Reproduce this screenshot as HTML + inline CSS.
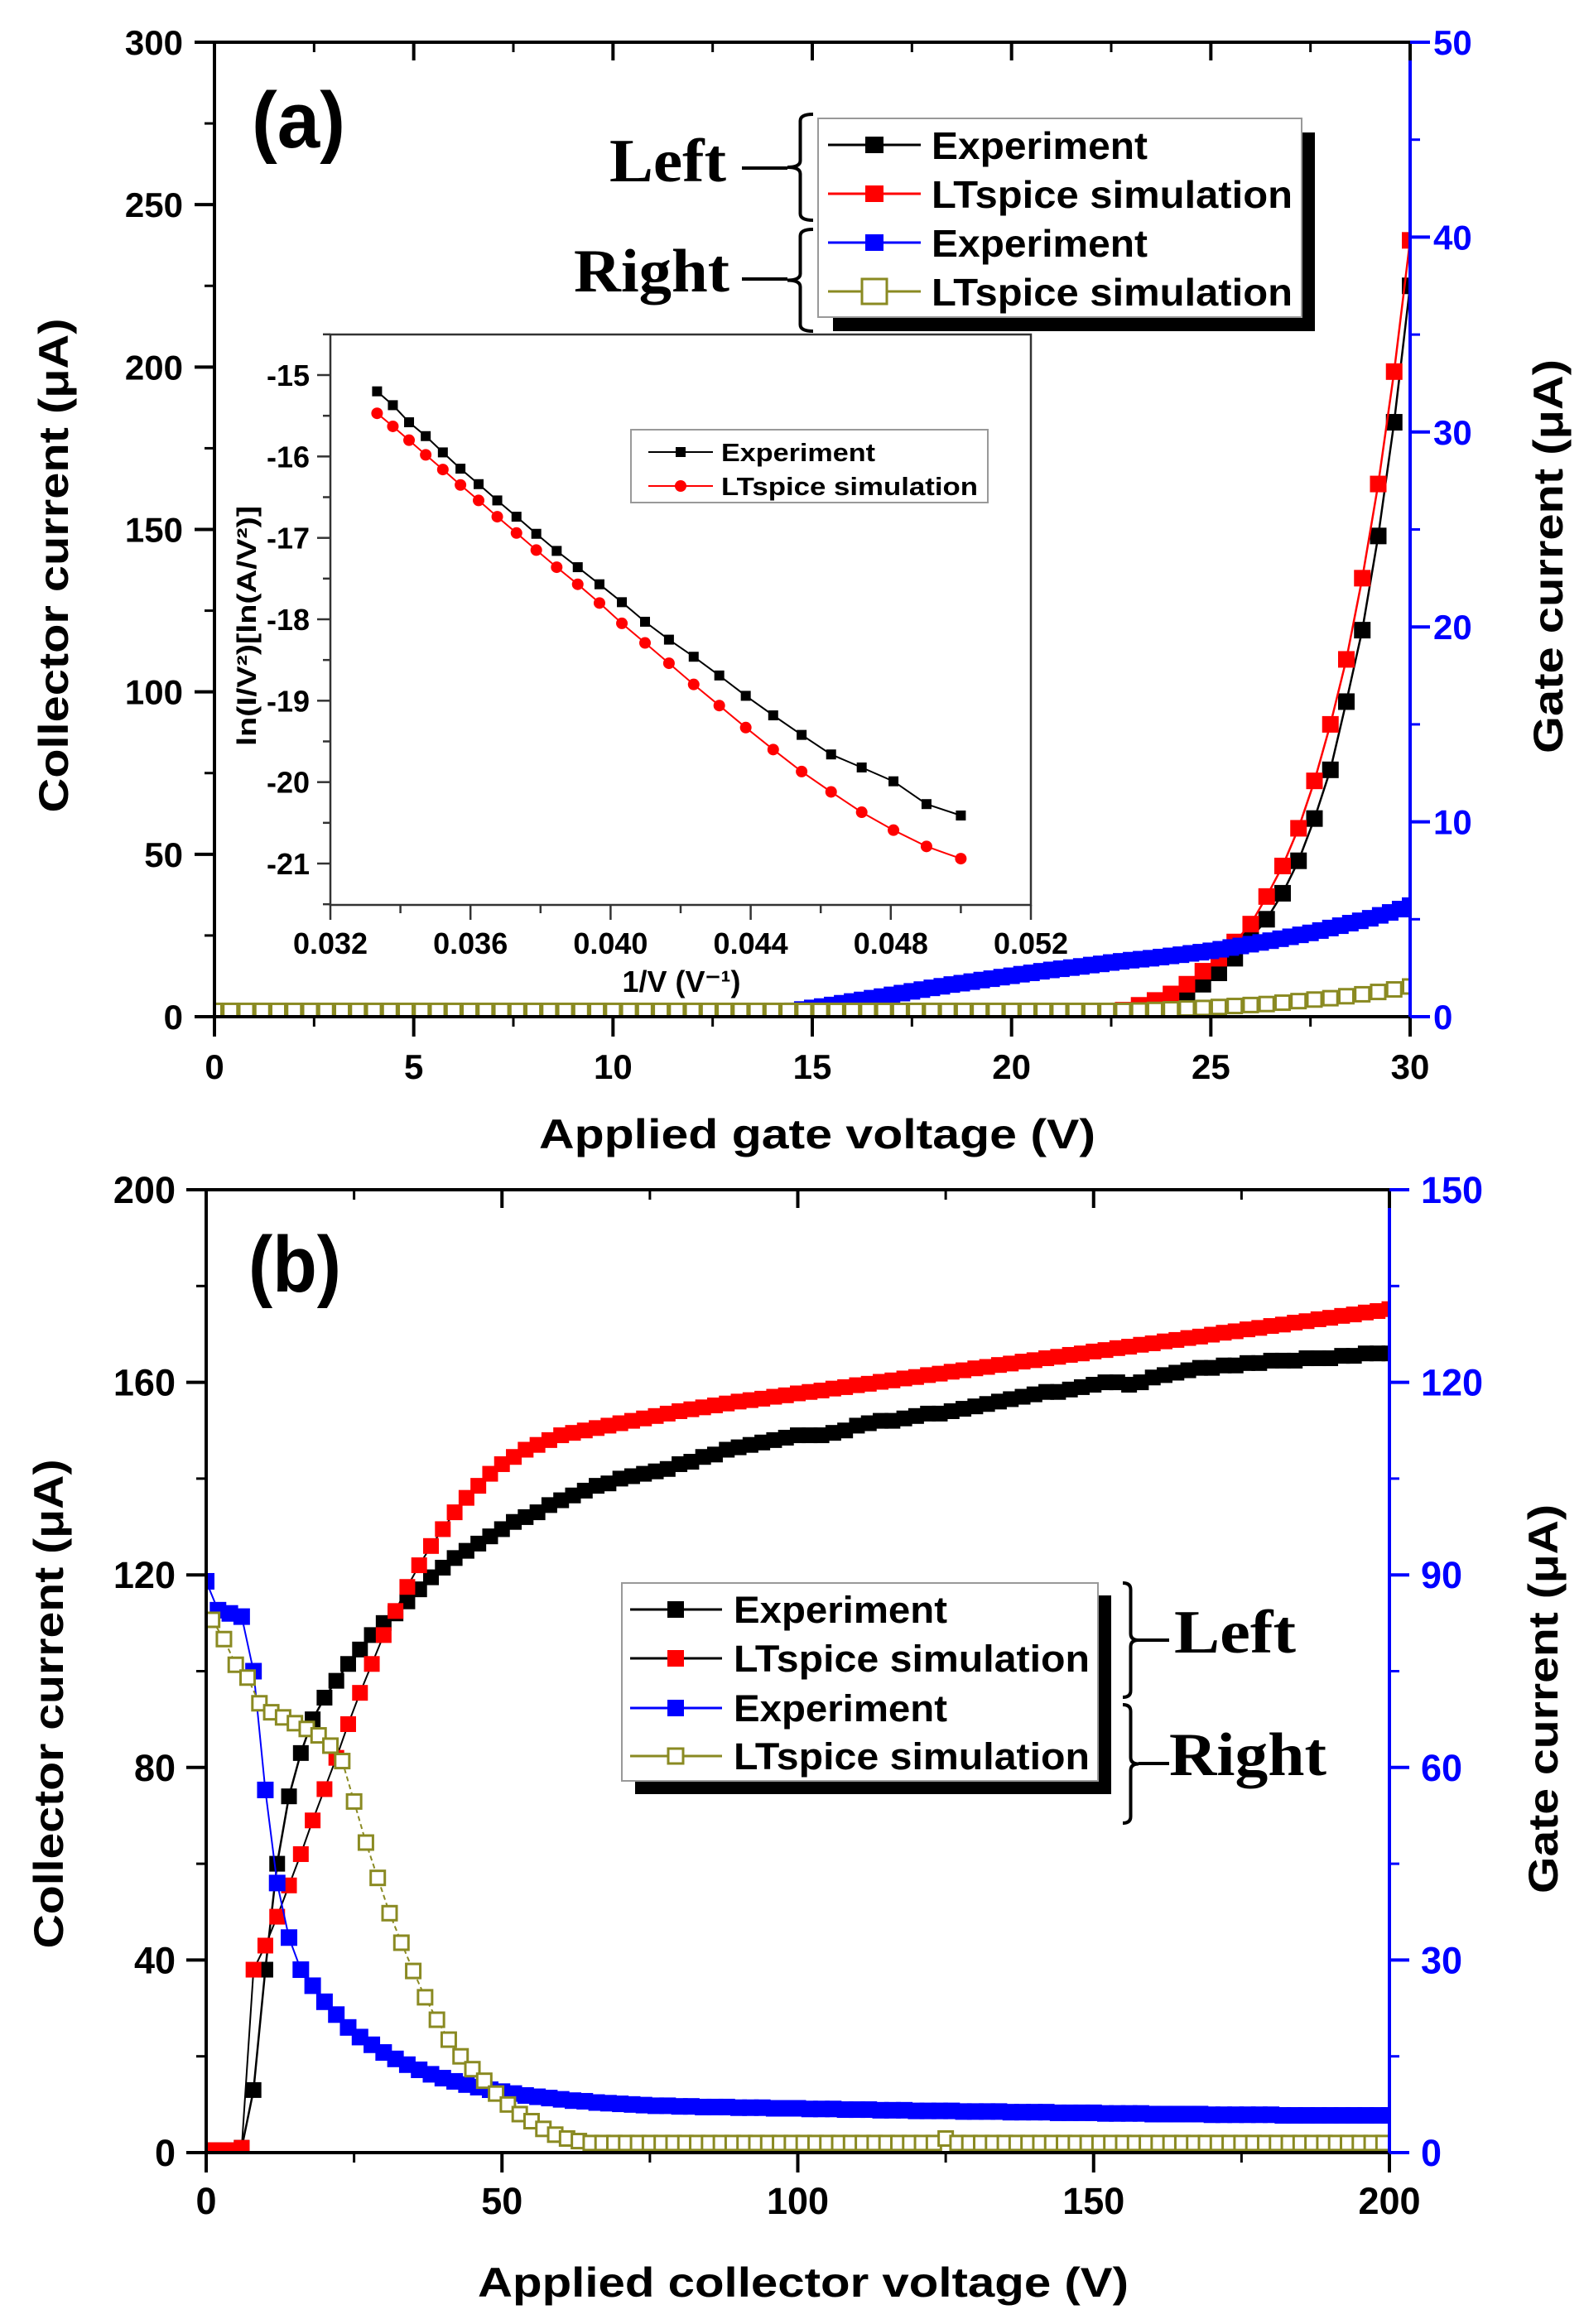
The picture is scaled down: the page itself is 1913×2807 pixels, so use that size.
<!DOCTYPE html>
<html><head><meta charset="utf-8"><title>Collector and gate current vs applied gate and collector voltage</title>
<style>
html,body{margin:0;padding:0;background:#fff;}
svg{display:block;font-family:"Liberation Sans",Arial,sans-serif;}
text{font-weight:bold;}
</style></head>
<body>
<svg id="fig" xmlns="http://www.w3.org/2000/svg" width="1913" height="2807" viewBox="0 0 1913 2807">
<defs>
<clipPath id="clipA"><rect x="259" y="40" width="1444" height="1188"/></clipPath>
<clipPath id="clipB"><rect x="249" y="1430" width="1429" height="1170"/></clipPath>
</defs>
</svg>
<script>
// ---------- Panel (a) data ----------
const aStep = 0.4;
const aExpCollector = [
0,0,0,0,0,0,0,0,0,0,
0,0,0,0,0,0,0,0,0,0,
0,0,0,0,0,0,0,0,0,0,
0,0,0,0,0,0,0,0,0,0,
0,0,0,0,0,0,0,0,0,0,
0,0,0,0,0,0,0,
0.5,1,2,4,6.5,10,13.5,18,24,30,38,48,61,76,97,119,148,183,225];
const aSimCollector = [
0,0,0,0,0,0,0,0,0,0,
0,0,0,0,0,0,0,0,0,0,
0,0,0,0,0,0,0,0,0,0,
0,0,0,0,0,0,0,0,0,0,
0,0,0,0,0,0,0,0,0,0,
0,0,0,0,0,
0.5,1,2,3.5,5,7,10,14,18,23,28.5,37,46.4,58,72.6,90,110,135,164,198.6,239];
const aSimGate = [
0.3,0.3,0.3,0.3,0.3,0.3,0.3,0.3,0.3,0.3,
0.3,0.3,0.3,0.3,0.3,0.3,0.3,0.3,0.3,0.3,
0.3,0.3,0.3,0.3,0.3,0.3,0.3,0.3,0.3,0.3,
0.3,0.3,0.3,0.3,0.3,0.3,0.3,0.3,0.3,0.3,
0.3,0.3,0.3,0.3,0.3,0.3,0.3,0.3,0.3,0.3,
0.3,0.3,0.3,0.3,0.3,0.3,0.3,0.3,
0.32,0.35,0.38,0.42,0.45,0.5,0.55,0.6,0.65,0.72,0.8,0.88,0.95,1.05,1.15,1.27,1.4,1.55];
const aExpGateStart = 13, aExpGateStep = 0.25;
const aExpGate = [0,0.02,0.05,0.1,0.15,0.22,0.3,0.37,0.45,0.52,0.6,0.69,0.78,0.86,0.95,1.03,1.12,1.21,1.3,1.39,
1.48,1.56,1.65,1.72,1.8,1.88,1.95,2.03,2.1,2.18,2.25,2.33,2.4,2.46,2.52,2.58,2.65,2.71,2.78,2.84,
2.9,2.95,3.0,3.06,3.12,3.18,3.25,3.31,3.38,3.46,3.55,3.63,3.72,3.81,3.9,4.0,4.1,4.2,4.3,4.42,
4.55,4.67,4.8,4.92,5.05,5.2,5.35,5.52,5.7];
const aXTicks = [0,5,10,15,20,25,30];
const aYLTicks = [0,50,100,150,200,250,300];
const aYRTicks = [0,10,20,30,40,50];

// ---------- Inset data ----------
const insetV = [30,29.6,29.2,28.8,28.4,28,27.6,27.2,26.8,26.4,26,25.6,25.2,24.8,24.4,24,23.6,23.2,22.8,22.4,22,21.6,21.2,20.8,20.4,20];
const insetExp = [-15.20,-15.37,-15.58,-15.75,-15.95,-16.15,-16.34,-16.54,-16.74,-16.95,-17.16,-17.36,-17.57,-17.79,-18.03,-18.25,-18.46,-18.69,-18.94,-19.18,-19.42,-19.66,-19.82,-19.99,-20.27,-20.41];
const insetSim = [-15.47,-15.63,-15.80,-15.98,-16.16,-16.35,-16.54,-16.74,-16.94,-17.15,-17.36,-17.57,-17.80,-18.05,-18.29,-18.54,-18.80,-19.06,-19.33,-19.60,-19.87,-20.12,-20.37,-20.59,-20.79,-20.94];
const insetXTicks = ["0.032","0.036","0.040","0.044","0.048","0.052"];
const insetYTicks = [-15,-16,-17,-18,-19,-20,-21];

// ---------- Panel (b) data ----------
const bStep = 2;
const bExpCollector = [0.5,0.5,0.5,1,13,38,60,74,83,90,
94.5,98,101.5,104.5,107.5,110,112,114.5,117,119.5,
121.5,123.5,125,126.5,128,129.5,131,132,133,134.5,
135.5,136.5,137.5,138.5,139,140,140.5,141,141.5,142,
143,143.5,144.5,145,146,146.5,147,147.5,148,148.5,
149,149,149,149.5,150,151,151.5,152,152,152.5,
153,153.5,153.5,154,154.5,155,155.5,156,156.5,157,
157.5,158,158,158.5,159,159.5,160,160,159.5,160,
161,161.5,162,162.5,163,163,163.5,163.5,164,164,
164.5,164.5,164.5,165,165,165,165.5,165.5,166,166,166];
const bSimCollector = [0.5,0.5,0.5,1,38,43,49,55.5,62,69,
75.5,82,89,95.5,101.5,107.5,112.5,117.5,122,126,
129.5,133,136,138.5,141,143,144.5,146,147,148,
149,149.5,150,150.5,151,151.5,152,152.5,153,153.5,
154,154.4,154.8,155.2,155.6,156,156.3,156.6,157,157.3,
157.7,158,158.3,158.7,159,159.4,159.7,160.1,160.4,160.8,
161.1,161.5,161.8,162.2,162.5,162.9,163.2,163.6,163.9,164.3,
164.6,165,165.3,165.7,166,166.4,166.7,167.1,167.4,167.8,
168.1,168.5,168.8,169.2,169.5,169.9,170.3,170.6,171,171.3,
171.7,172,172.4,172.7,173.1,173.4,173.8,174.1,174.5,174.8,175.2];
const bExpGate = [89,84.5,84,83.5,75,56.5,42,33.5,28.5,26,
23.5,21.5,19.5,18,16.8,15.6,14.6,13.7,12.9,12.2,
11.6,11.1,10.6,10.2,9.8,9.5,9.2,8.9,8.7,8.5,
8.3,8.1,8,7.8,7.7,7.6,7.5,7.4,7.3,7.3,
7.2,7.2,7.1,7.1,7.1,7,7,7,6.9,6.9,
6.9,6.8,6.8,6.8,6.7,6.7,6.7,6.6,6.6,6.6,
6.5,6.5,6.5,6.5,6.4,6.4,6.4,6.4,6.3,6.3,
6.3,6.3,6.2,6.2,6.2,6.2,6.1,6.1,6.1,6.1,
6.0,6.0,6.0,6.0,6.0,5.9,5.9,5.9,5.9,5.9,
5.9,5.8,5.8,5.8,5.8,5.8,5.8,5.8,5.8,5.8,5.8];
const bSimGateStart = 1;
const bSimGate = [83,80,76,74,70,68.6,67.8,66.9,66,65,
63.4,61,54.7,48.3,42.8,37.3,32.7,28.3,24.2,20.7,
17.6,15,13,11.2,9.2,7.5,6,4.9,3.7,2.8,
2.2,1.8,1.5,1.5,1.5,1.5,1.5,1.5,1.5,1.5,
1.5,1.5,1.5,1.5,1.5,1.5,1.5,1.5,1.5,1.5,
1.5,1.5,1.5,1.5,1.5,1.5,1.5,1.5,1.5,1.5,
1.5,1.5,2.2,1.5,1.5,1.5,1.5,1.5,1.5,1.5,
1.5,1.5,1.5,1.5,1.5,1.5,1.5,1.5,1.5,1.5,
1.5,1.5,1.5,1.5,1.5,1.5,1.5,1.5,1.5,1.5,
1.5,1.5,1.5,1.5,1.5,1.5,1.5,1.5,1.5,1.5];
const bXTicks = [0,50,100,150,200];
const bYLTicks = [0,40,80,120,160,200];
const bYRTicks = [0,30,60,90,120,150];

// ---------- helpers ----------
const NS = "http://www.w3.org/2000/svg";
const svg = document.getElementById('fig');
const BLUE = "#0000ff", RED = "#ff0000", OLIVE = "#8a8a22";
function mk(tag, attrs, parent) {
  const e = document.createElementNS(NS, tag);
  for (const k in attrs) e.setAttribute(k, attrs[k]);
  (parent || svg).appendChild(e);
  return e;
}
function scale(d0, d1, p0, p1) { return v => p0 + (v - d0) * (p1 - p0) / (d1 - d0); }
function txt(s, x, y, size, anchor, fill, parent, extra) {
  const t = mk('text', Object.assign({x: x, y: y, 'font-size': size, 'text-anchor': anchor || 'start', fill: fill || '#000'}, extra || {}), parent);
  t.textContent = s;
  return t;
}
function seq(start, step, n) { const r = []; for (let i = 0; i < n; i++) r.push(+(start + i * step).toFixed(4)); return r; }

function drawSeries(g, xs, ys, sx, sy, o) {
  if (o.line) {
    const pts = xs.map((x, i) => sx(x).toFixed(1) + ',' + sy(ys[i]).toFixed(1)).join(' ');
    const pl = mk('polyline', {points: pts, fill: 'none', stroke: o.line, 'stroke-width': o.lw || 2.5, 'stroke-dasharray': o.dash || 'none'}, g);
    
    
  }
  xs.forEach((x, i) => {
    const cx = sx(x), cy = sy(ys[i]);
    let m;
    if (o.shape === 'circle') {
      m = mk('circle', {cx: cx, cy: cy, r: o.size / 2, fill: o.fill}, g);
    } else if (o.shape === 'open') {
      m = mk('rect', {x: cx - o.size / 2, y: cy - o.size / 2, width: o.size, height: o.size, fill: '#fff', stroke: o.stroke, 'stroke-width': 3}, g);
    } else {
      m = mk('rect', {x: cx - o.size / 2, y: cy - o.size / 2, width: o.size, height: o.size, fill: o.fill}, g);
    }
    
    
  });
}

function ticksV(g, x, vals, s, dir, len, color, w) {
  vals.forEach(v => { mk('line', {x1: x, x2: x + dir * len, y1: s(v), y2: s(v), stroke: color, 'stroke-width': w}, g); });
}
function ticksH(g, y, vals, s, dir, len, color, w) {
  vals.forEach(v => { mk('line', {y1: y, y2: y + dir * len, x1: s(v), x2: s(v), stroke: color, 'stroke-width': w}, g); });
}
function mids(arr) { const r = []; for (let i = 0; i < arr.length - 1; i++) r.push((arr[i] + arr[i + 1]) / 2); return r; }

function brace(g, xTip, xEnd, yTop, yBot, w) {
  const xm = (xTip + xEnd) / 2, m = (yTop + yBot) / 2, r = 8;
  const d = `M${xEnd},${yTop} Q${xm},${yTop} ${xm},${yTop + r} L${xm},${m - r} Q${xm},${m} ${xTip},${m} Q${xm},${m} ${xm},${m + r} L${xm},${yBot - r} Q${xm},${yBot} ${xEnd},${yBot}`;
  return mk('path', {d: d, fill: 'none', stroke: '#000', 'stroke-width': w || 4}, g);
}

// ================= PANEL A =================
const A = {L: 259, R: 1703, T: 51, B: 1228};
const xa = scale(0, 30, A.L, A.R), yaL = scale(0, 300, A.B, A.T), yaR = scale(0, 50, A.B, A.T);
const gA = mk('g', {});



const aX = seq(0, aStep, aExpCollector.length);
const aXG = seq(aExpGateStart, aExpGateStep, aExpGate.length);
const gAd = mk('g', {'clip-path': 'url(#clipA)'}, gA);


drawSeries(gAd, aX, aExpCollector, xa, yaL, {name: 'a-experiment-collector', line: '#000', lw: 2.5, shape: 'square', size: 20, fill: '#000'});
drawSeries(gAd, aX, aSimCollector, xa, yaL, {name: 'a-ltspice-collector', line: RED, lw: 2.5, shape: 'square', size: 20, fill: RED});
drawSeries(gAd, aXG, aExpGate, xa, yaR, {name: 'a-experiment-gate', line: BLUE, lw: 2.5, shape: 'square', size: 20, fill: BLUE});
drawSeries(gAd, aX, aSimGate, xa, yaR, {name: 'a-ltspice-gate', line: OLIVE, lw: 2, shape: 'open', size: 17, stroke: OLIVE});

const gAax = mk('g', {}, gA);


mk('line', {x1: A.L, x2: A.R, y1: A.B, y2: A.B, stroke: '#000', 'stroke-width': 4}, gAax);
mk('line', {x1: A.L, x2: A.R, y1: A.T, y2: A.T, stroke: '#000', 'stroke-width': 4}, gAax);
mk('line', {x1: A.L, x2: A.L, y1: A.T, y2: A.B + 2, stroke: '#000', 'stroke-width': 4}, gAax);
mk('line', {x1: A.R, x2: A.R, y1: A.T, y2: A.B, stroke: BLUE, 'stroke-width': 4}, gAax);
ticksH(gAax, A.B, aXTicks, xa, 1, 24, '#000', 4);
ticksH(gAax, A.B, mids(aXTicks), xa, 1, 12, '#000', 3);
ticksH(gAax, A.T, aXTicks, xa, 1, 22, '#000', 4);
ticksH(gAax, A.T, mids(aXTicks), xa, 1, 12, '#000', 3);
ticksV(gAax, A.L, aYLTicks, yaL, -1, 24, '#000', 4);
ticksV(gAax, A.L, mids(aYLTicks), yaL, -1, 12, '#000', 3);
ticksV(gAax, A.R, aYRTicks, yaR, 1, 24, BLUE, 4);
ticksV(gAax, A.R, mids(aYRTicks), yaR, 1, 12, BLUE, 3);
aXTicks.forEach(v => { const t = txt(String(v), xa(v), 1303, 42, 'middle', '#000', gAax);   });
aYLTicks.forEach(v => { const t = txt(String(v), 221, yaL(v) + 15, 42, 'end', '#000', gAax);   });
aYRTicks.forEach(v => { const t = txt(String(v), 1731, yaR(v) + 15, 42, 'start', BLUE, gAax);   });

const aXT = txt('Applied gate voltage (V)', 987, 1387, 50, 'middle', '#000', gA, {textLength: 672, lengthAdjust: 'spacingAndGlyphs'});


const aYLT = txt('Collector current (μA)', 0, 0, 50, 'middle', '#000', gA, {textLength: 597, lengthAdjust: 'spacingAndGlyphs', transform: 'translate(82,683) rotate(-90)'});


const aYRT = txt('Gate current (μA)', 0, 0, 50, 'middle', '#000', gA, {textLength: 476, lengthAdjust: 'spacingAndGlyphs', transform: 'translate(1887,672) rotate(-90)'});


const aLab = txt('(a)', 304, 178, 96, 'start', '#000', gA, {textLength: 113, lengthAdjust: 'spacingAndGlyphs'});



const gAL = mk('g', {}, gA);


mk('rect', {x: 1006, y: 160, width: 582, height: 240, fill: '#000'}, gAL);
mk('rect', {x: 988, y: 143, width: 584, height: 240, fill: '#fff', stroke: '#999', 'stroke-width': 2}, gAL);
const aLegRows = [
  {y: 175, label: 'Experiment', color: '#000', shape: 'square', len: 261},
  {y: 234, label: 'LTspice simulation', color: RED, shape: 'square', len: 436},
  {y: 293, label: 'Experiment', color: BLUE, shape: 'square', len: 261},
  {y: 352, label: 'LTspice simulation', color: OLIVE, shape: 'open', len: 436}
];
aLegRows.forEach((r, i) => {
  const g = mk('g', {}, gAL);
  
  
  mk('line', {x1: 1000, x2: 1112, y1: r.y, y2: r.y, stroke: r.color, 'stroke-width': 3}, g);
  if (r.shape === 'open') mk('rect', {x: 1041, y: r.y - 15, width: 30, height: 30, fill: '#fff', stroke: r.color, 'stroke-width': 3}, g);
  else mk('rect', {x: 1045, y: r.y - 10, width: 22, height: 20, fill: r.color}, g);
  txt(r.label, 1125, r.y + 17, 46, 'start', '#000', g, {textLength: r.len, lengthAdjust: 'spacingAndGlyphs'});
});
const gAB = mk('g', {}, gA);


brace(gAB, 951, 982, 138, 266, 4);
brace(gAB, 951, 982, 277, 400, 4);
mk('line', {x1: 896, x2: 951, y1: 203, y2: 203, stroke: '#000', 'stroke-width': 4}, gAB);
mk('line', {x1: 896, x2: 951, y1: 337, y2: 337, stroke: '#000', 'stroke-width': 4}, gAB);
txt('Left', 736, 219, 74, 'start', '#000', gAB, {textLength: 141, lengthAdjust: 'spacingAndGlyphs', 'font-family': '"Liberation Serif",serif'});
txt('Right', 693, 352, 74, 'start', '#000', gAB, {textLength: 188, lengthAdjust: 'spacingAndGlyphs', 'font-family': '"Liberation Serif",serif'});

// ================= INSET =================
const I = {L: 399, R: 1245, T: 404, B: 1093};
const xi = scale(0.032, 0.052, I.L, I.R), yi = scale(-15, -21, 453, 1043);
const gI = mk('g', {});


mk('rect', {x: I.L, y: I.T, width: I.R - I.L, height: I.B - I.T, fill: '#fff', stroke: '#333', 'stroke-width': 2.5}, gI);
const insetX = insetV.map(v => 1 / v);
drawSeries(gI, insetX, insetExp, xi, yi, {name: 'inset-experiment', line: '#000', lw: 2, shape: 'square', size: 12, fill: '#000'});
drawSeries(gI, insetX, insetSim, xi, yi, {name: 'inset-ltspice', line: RED, lw: 2, shape: 'circle', size: 14, fill: RED});
const inXT = insetXTicks.map(Number);
ticksH(gI, I.B, inXT, xi, 1, 18, '#333', 2.5);
ticksH(gI, I.B, mids(inXT), xi, 1, 10, '#333', 2.5);
ticksV(gI, I.L, insetYTicks, yi, -1, 16, '#333', 2.5);
ticksV(gI, I.L, mids(insetYTicks).concat([-14.5, -21.5]), yi, -1, 9, '#333', 2.5);
insetXTicks.forEach(s => { const t = txt(s, xi(Number(s)), 1152, 36, 'middle', '#000', gI);   });
insetYTicks.forEach(v => { const t = txt(String(v), 374, yi(v) + 13, 36, 'end', '#000', gI);   });
const iXT = txt('1/V (V⁻¹)', 823, 1198, 36, 'middle', '#000', gI, {textLength: 143, lengthAdjust: 'spacingAndGlyphs'});


const iYT = txt('ln(I/V²)[ln(A/V²)]', 0, 0, 32, 'middle', '#000', gI, {textLength: 290, lengthAdjust: 'spacingAndGlyphs', transform: 'translate(309,756) rotate(-90)'});


const gIL = mk('g', {}, gI);


mk('rect', {x: 762, y: 519, width: 431, height: 88, fill: '#fff', stroke: '#999', 'stroke-width': 2}, gIL);
[{y: 546, label: 'Experiment', c: '#000', s: 'square', len: 186}, {y: 587, label: 'LTspice simulation', c: RED, s: 'circle', len: 310}].forEach(r => {
  const g = mk('g', {}, gIL);
  
  
  mk('line', {x1: 783, x2: 861, y1: r.y, y2: r.y, stroke: r.c, 'stroke-width': 2}, g);
  if (r.s === 'square') mk('rect', {x: 816, y: r.y - 6, width: 12, height: 12, fill: r.c}, g);
  else mk('circle', {cx: 822, cy: r.y, r: 7, fill: r.c}, g);
  txt(r.label, 871, r.y + 11, 31, 'start', '#000', g, {textLength: r.len, lengthAdjust: 'spacingAndGlyphs'});
});

// ================= PANEL B =================
const B = {L: 249, R: 1678, T: 1437, B: 2600};
const xb = scale(0, 200, B.L, B.R), ybL = scale(0, 200, B.B, B.T), ybR = scale(0, 150, B.B, B.T);
const gB = mk('g', {});


const bX = seq(0, bStep, bExpCollector.length);
const bXY = seq(bSimGateStart, bStep, bSimGate.length);
const gBd = mk('g', {'clip-path': 'url(#clipB)'}, gB);


drawSeries(gBd, bX, bExpCollector, xb, ybL, {name: 'b-experiment-collector', line: '#000', lw: 2.5, shape: 'square', size: 19, fill: '#000'});
drawSeries(gBd, bX, bSimCollector, xb, ybL, {name: 'b-ltspice-collector', line: '#000', lw: 2, shape: 'square', size: 19, fill: RED});
drawSeries(gBd, bX, bExpGate, xb, ybR, {name: 'b-experiment-gate', line: BLUE, lw: 2, shape: 'square', size: 20, fill: BLUE});
drawSeries(gBd, bXY, bSimGate, xb, ybR, {name: 'b-ltspice-gate', line: OLIVE, lw: 2, dash: '6 4', shape: 'open', size: 17, stroke: OLIVE});

const gBax = mk('g', {}, gB);


mk('line', {x1: B.L, x2: B.R, y1: B.B, y2: B.B, stroke: '#000', 'stroke-width': 4}, gBax);
mk('line', {x1: B.L, x2: B.R, y1: B.T, y2: B.T, stroke: '#000', 'stroke-width': 4}, gBax);
mk('line', {x1: B.L, x2: B.L, y1: B.T, y2: B.B + 2, stroke: '#000', 'stroke-width': 4}, gBax);
mk('line', {x1: B.R, x2: B.R, y1: B.T, y2: B.B, stroke: BLUE, 'stroke-width': 4}, gBax);
ticksH(gBax, B.B, bXTicks, xb, 1, 24, '#000', 4);
ticksH(gBax, B.B, mids(bXTicks), xb, 1, 12, '#000', 3);
ticksH(gBax, B.T, bXTicks, xb, 1, 22, '#000', 4);
ticksH(gBax, B.T, mids(bXTicks), xb, 1, 12, '#000', 3);
ticksV(gBax, B.L, bYLTicks, ybL, -1, 24, '#000', 4);
ticksV(gBax, B.L, mids(bYLTicks), ybL, -1, 12, '#000', 3);
ticksV(gBax, B.R, bYRTicks, ybR, 1, 24, BLUE, 4);
ticksV(gBax, B.R, mids(bYRTicks), ybR, 1, 12, BLUE, 3);
bXTicks.forEach(v => { const t = txt(String(v), xb(v), 2674, 45, 'middle', '#000', gBax);   });
bYLTicks.forEach(v => { const t = txt(String(v), 212, ybL(v) + 16, 45, 'end', '#000', gBax);   });
bYRTicks.forEach(v => { const t = txt(String(v), 1716, ybR(v) + 16, 45, 'start', BLUE, gBax);   });

const bXT = txt('Applied collector voltage (V)', 970, 2774, 50, 'middle', '#000', gB, {textLength: 786, lengthAdjust: 'spacingAndGlyphs'});


const bYLT = txt('Collector current (μA)', 0, 0, 50, 'middle', '#000', gB, {textLength: 591, lengthAdjust: 'spacingAndGlyphs', transform: 'translate(76,2058) rotate(-90)'});


const bYRT = txt('Gate current (μA)', 0, 0, 50, 'middle', '#000', gB, {textLength: 470, lengthAdjust: 'spacingAndGlyphs', transform: 'translate(1881,2052) rotate(-90)'});


const bLab = txt('(b)', 300, 1560, 96, 'start', '#000', gB, {textLength: 112, lengthAdjust: 'spacingAndGlyphs'});



const gBL = mk('g', {}, gB);


mk('rect', {x: 767, y: 1927, width: 575, height: 240, fill: '#000'}, gBL);
mk('rect', {x: 751, y: 1912, width: 575, height: 239, fill: '#fff', stroke: '#999', 'stroke-width': 2}, gBL);
const bLegRows = [
  {y: 1944, label: 'Experiment', line: '#000', color: '#000', shape: 'square', len: 258},
  {y: 2003, label: 'LTspice simulation', line: '#000', color: RED, shape: 'square', len: 430},
  {y: 2063, label: 'Experiment', line: BLUE, color: BLUE, shape: 'square', len: 258},
  {y: 2121, label: 'LTspice simulation', line: OLIVE, color: OLIVE, shape: 'open', len: 430}
];
bLegRows.forEach(r => {
  const g = mk('g', {}, gBL);
  
  
  mk('line', {x1: 761, x2: 872, y1: r.y, y2: r.y, stroke: r.line, 'stroke-width': 3}, g);
  if (r.shape === 'open') mk('rect', {x: 807, y: r.y - 9, width: 18, height: 18, fill: '#fff', stroke: r.color, 'stroke-width': 3}, g);
  else mk('rect', {x: 806, y: r.y - 10, width: 20, height: 20, fill: r.color}, g);
  txt(r.label, 886, r.y + 16, 45, 'start', '#000', g, {textLength: r.len, lengthAdjust: 'spacingAndGlyphs'});
});
const gBB = mk('g', {}, gB);


brace(gBB, 1375, 1356, 1912, 2050, 4);
brace(gBB, 1375, 1356, 2059, 2202, 4);
mk('line', {x1: 1375, x2: 1412, y1: 1981, y2: 1981, stroke: '#000', 'stroke-width': 4}, gBB);
mk('line', {x1: 1375, x2: 1412, y1: 2130, y2: 2130, stroke: '#000', 'stroke-width': 4}, gBB);
txt('Left', 1418, 1996, 74, 'start', '#000', gBB, {textLength: 147, lengthAdjust: 'spacingAndGlyphs', 'font-family': '"Liberation Serif",serif'});
txt('Right', 1412, 2144, 74, 'start', '#000', gBB, {textLength: 190, lengthAdjust: 'spacingAndGlyphs', 'font-family': '"Liberation Serif",serif'});
</script>
</body></html>
